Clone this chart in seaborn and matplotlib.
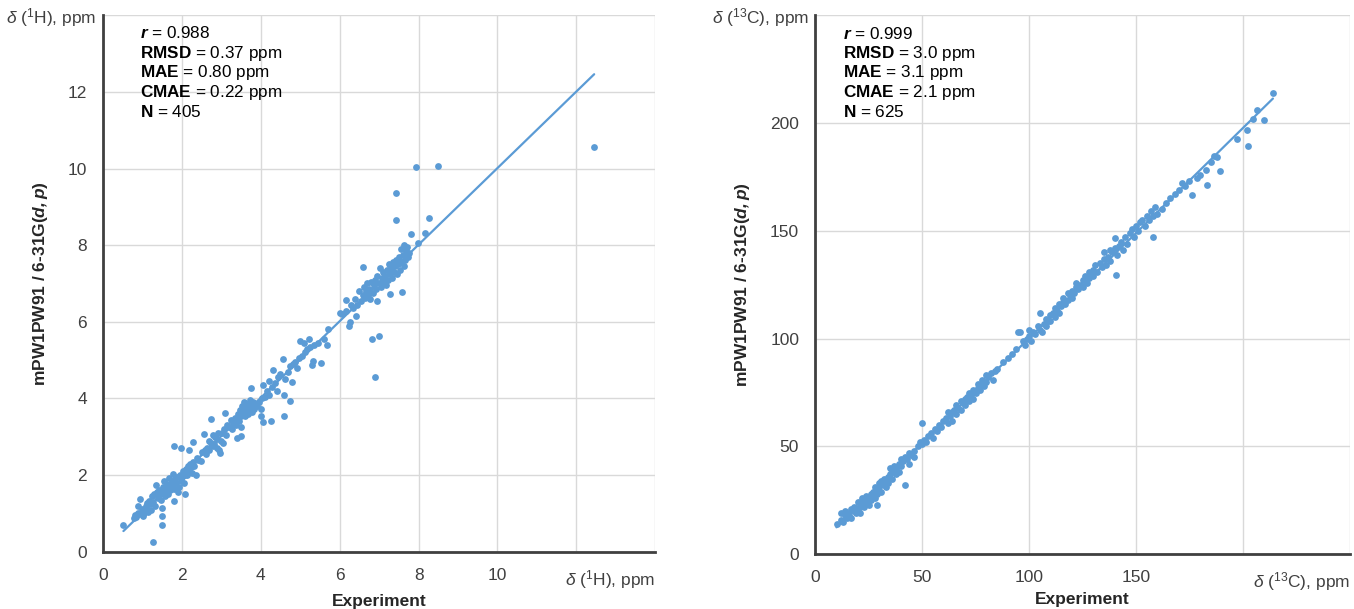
import matplotlib
matplotlib.use("Agg")
import matplotlib.pyplot as plt
import seaborn as sns
import pandas as pd

# 1H chemical shifts: experiment vs. mPW1PW91/6-31G(d,p)
h_exp = [0.52, 0.78, 0.82, 0.85, 0.88, 0.9, 0.92, 0.95, 0.98, 1.0, 1.02, 1.05, 1.08, 1.1, 1.12,
         1.15, 1.18, 1.2, 1.22, 1.25, 1.28, 1.28, 1.3, 1.32, 1.35, 1.38, 1.4, 1.42, 1.45, 1.48,
         1.5, 1.51, 1.51, 1.52, 1.55, 1.55, 1.58, 1.6, 1.62, 1.65, 1.68, 1.7, 1.72, 1.75, 1.78,
         1.78, 1.8, 1.8, 1.79, 1.82, 1.85, 1.88, 1.9, 1.92, 1.95, 1.98, 1.98, 2.0, 2.02, 2.05,
         2.07, 2.08, 2.1, 2.12, 2.15, 2.18, 2.18, 2.2, 2.22, 2.25, 2.28, 2.28, 2.3, 2.35, 2.38,
         2.42, 2.48, 2.52, 2.56, 2.58, 2.62, 2.65, 2.68, 2.7, 2.74, 2.75, 2.78, 2.8, 2.82, 2.85,
         2.88, 2.9, 2.92, 2.95, 2.98, 3.0, 3.02, 3.05, 3.08, 3.1, 3.12, 3.15, 3.2, 3.25, 3.28,
         3.3, 3.35, 3.38, 3.41, 3.42, 3.45, 3.48, 3.49, 3.5, 3.51, 3.52, 3.55, 3.58, 3.6, 3.62,
         3.65, 3.68, 3.7, 3.72, 3.75, 3.75, 3.78, 3.8, 3.82, 3.85, 3.9, 3.95, 4.0, 4.0, 4.02,
         4.06, 4.05, 4.1, 4.15, 4.2, 4.22, 4.25, 4.28, 4.31, 4.35, 4.4, 4.45, 4.5, 4.56, 4.58,
         4.6, 4.62, 4.68, 4.73, 4.75, 4.8, 4.82, 4.88, 4.92, 4.98, 5.0, 5.05, 5.1, 5.12, 5.18,
         5.22, 5.25, 5.31, 5.32, 5.35, 5.45, 5.52, 5.6, 5.68, 5.7,
         6.0, 6.05, 6.15, 6.16, 6.24, 6.27, 6.3, 6.35, 6.4, 6.42, 6.45, 6.5, 6.55, 6.58, 6.6,
         6.62, 6.65, 6.68, 6.7, 6.72, 6.75, 6.78, 6.8, 6.83, 6.85, 6.88, 6.9, 6.9, 6.92, 6.94,
         6.95, 7.0, 7.0, 7.02, 7.05, 7.08, 7.1, 7.12, 7.15, 7.18, 7.2, 7.22, 7.25, 7.27, 7.28,
         7.3, 7.32, 7.35, 7.38, 7.4, 7.42, 7.43, 7.43, 7.45, 7.48, 7.5, 7.52, 7.55, 7.55, 7.58,
         7.6, 7.62, 7.64, 7.65, 7.68, 7.7, 7.72, 7.75, 7.82, 7.94, 7.98, 8.16, 8.27, 8.49, 12.45]
h_calc = [0.70, 0.88, 0.95, 0.90, 1.02, 1.2, 0.98, 1.38, 1.05, 1.12, 0.92, 1.0, 1.2, 1.15, 1.28,
          1.05, 1.32, 1.25, 1.1, 1.45, 0.25, 1.3, 1.5, 1.2, 1.75, 1.55, 1.4, 1.62, 1.5, 1.35,
          1.15, 0.70, 0.94, 1.7, 1.85, 1.55, 1.45, 1.62, 1.78, 1.5, 1.92, 1.6, 1.7, 1.85, 1.75,
          2.02, 1.32, 1.65, 2.76, 1.9, 1.8, 1.95, 1.55, 1.7, 2.0, 2.71, 1.85, 1.95, 2.1, 1.8,
          2.0, 1.52, 2.15, 2.0, 2.25, 2.66, 2.1, 2.3, 2.2, 2.05, 2.86, 2.35, 2.25, 2.0, 2.45,
          2.4, 2.38, 2.6, 3.08, 2.65, 2.55, 2.7, 2.9, 2.65, 3.46, 2.85, 2.75, 3.05, 2.8, 3.0,
          2.7, 2.95, 3.1, 2.65, 2.58, 2.9, 3.1, 2.85, 3.2, 3.62, 3.05, 3.3, 3.25, 3.45, 3.2,
          3.35, 3.5, 3.3, 2.98, 3.6, 3.4, 3.7, 3.26, 3.55, 3.01, 3.8, 3.65, 3.9, 3.55, 3.75,
          3.85, 3.6, 3.7, 3.95, 4.28, 3.8, 3.65, 3.9, 3.72, 3.85, 3.8, 3.92, 3.55, 3.72, 4.0,
          3.38, 4.35, 4.05, 4.2, 4.45, 4.1, 3.41, 4.3, 4.73, 4.4, 4.2, 4.55, 4.65, 5.02, 4.1,
          3.55, 4.5, 4.7, 3.94, 4.85, 4.42, 4.9, 4.95, 4.8, 5.05, 5.5, 5.1, 5.45, 5.2, 5.3,
          5.55, 5.35, 4.88, 4.98, 5.4, 5.45, 4.93, 5.55, 5.40, 5.81,
          6.24, 6.2, 6.29, 6.57, 5.89, 5.99, 6.45, 6.35, 6.6, 6.15, 6.45, 6.8, 6.55, 6.7, 7.42,
          6.9, 6.62, 6.8, 7.0, 6.7, 6.85, 6.6, 7.05, 5.54, 6.75, 6.95, 4.57, 7.1, 6.85, 6.55,
          7.2, 5.62, 7.0, 7.4, 6.9, 7.15, 7.3, 7.05, 7.2, 6.95, 7.35, 7.1, 7.5, 6.73, 7.25,
          7.4, 7.15, 7.55, 7.3, 7.45, 7.6, 9.35, 8.65, 7.25, 7.5, 7.7, 7.35, 7.9, 7.55, 6.79,
          7.75, 7.45, 8.0, 7.6, 7.85, 7.95, 7.7, 7.8, 8.28, 10.03, 8.06, 8.33, 8.72, 10.07, 10.56]

# 13C chemical shifts
c_exp = [10, 12, 12, 13, 14, 14, 15, 15, 16, 17, 17, 18, 18, 19, 20, 20, 21, 21, 22, 22, 23, 23,
         24, 24, 25, 25, 26, 26, 27, 27, 28, 28, 29, 29, 29, 30, 30, 31, 31, 32, 32, 33, 33, 34,
         34, 35, 35, 36, 36, 37, 37, 38, 38, 39, 39, 40, 40, 41, 42, 42, 43, 44, 44, 45, 46, 46,
         48, 49, 50, 50, 51, 52, 53, 54, 55, 56, 57, 58, 59, 60,
         61, 62, 62, 63, 64, 64, 65, 66, 66, 67, 68, 68, 69, 70, 70, 71, 72, 72, 73, 74, 74, 75,
         76, 76, 77, 78, 78, 79, 80, 80, 81, 82, 83, 84, 85,
         88, 90, 92, 94, 95, 96, 97, 98, 99, 100, 100,
         101, 102, 103, 104, 105, 105, 106, 107, 108, 108, 109, 110, 110, 111, 112, 112, 113, 114,
         114, 115, 116, 116, 117, 118, 118, 119, 120, 120, 121, 122, 122, 123, 124, 125, 125, 126,
         127, 128, 128, 129, 130, 130, 131, 132, 133, 134, 135, 135, 136, 137, 138, 138, 139, 140,
         140, 140.6, 141, 142, 143, 144, 145, 146, 147, 148, 149, 150, 151, 152, 153, 154, 155,
         156, 157, 158, 158, 159, 160,
         162, 164, 166, 168, 170, 171.6, 173, 176, 175, 178.6, 180, 182.6, 183.2, 185, 186.5,
         188, 189.3, 197, 202, 202.3, 204.7, 206.4, 210, 214]
c_calc = [14, 16, 19, 15, 18, 20, 17, 19, 18, 21, 17, 20, 22, 19, 21, 24, 22, 19, 23, 26, 22, 25,
          27, 24, 26, 23, 28, 25, 29, 27, 26, 31, 30, 23, 28, 33, 31, 29, 34, 32, 35, 34, 31, 36,
          33, 37, 40, 35, 38, 39, 41, 37, 40, 42, 38, 41, 44, 43, 45, 32, 44, 47, 42, 46, 48, 45,
          50, 52, 51, 61, 53, 52, 55, 56, 54, 58, 57, 60, 59, 62,
          63, 61, 66, 64, 66, 62, 67, 65, 69, 68, 67, 71, 70, 72, 69, 73, 71, 75, 74, 76, 72, 75,
          77, 79, 76, 79, 81, 78, 80, 83, 82, 84, 81, 85, 86,
          89, 91, 93, 95, 103, 103, 99, 97, 100, 101, 104,
          99, 103, 102, 106, 112, 104, 103, 107, 109, 106, 108, 111, 108, 112, 110, 114, 113, 116,
          112, 115, 117, 119, 116, 118, 121, 120, 122, 119, 121, 124, 126, 123, 125, 127, 124, 129,
          126, 128, 131, 130, 129, 132, 134, 131, 135, 133, 137, 140, 134, 138, 136, 141, 140, 142,
          146.6, 129.5, 139, 143, 145, 141, 147, 144, 149, 151, 147, 152, 150, 154, 155, 152, 157,
          155, 159, 147, 157, 161, 158,
          160, 163, 165, 167, 169, 172.3, 171, 166.7, 173, 174.5, 176, 178, 171.4, 182, 184.8,
          184.4, 177.7, 192.4, 196.7, 189.5, 201.7, 206, 201.4, 214]

h_stats = [("r", "0.988"), ("RMSD", "0.37 ppm"), ("MAE", "0.80 ppm"), ("CMAE", "0.22 ppm"), ("N", "405")]
c_stats = [("r", "0.999"), ("RMSD", "3.0 ppm"), ("MAE", "3.1 ppm"), ("CMAE", "2.1 ppm"), ("N", "625")]

sns.set_style("white")
plt.rcParams["font.family"] = ["Liberation Sans", "DejaVu Sans"]
plt.rcParams["mathtext.fontset"] = "custom"
plt.rcParams["mathtext.rm"] = "Liberation Sans"
plt.rcParams["mathtext.it"] = "Liberation Sans:italic"
plt.rcParams["mathtext.bf"] = "Liberation Sans:bold"
plt.rcParams["mathtext.bfit"] = "Liberation Sans:bold:italic"

blue = "#5B9BD5"
dark = "#404040"

fig = plt.figure(figsize=(13.54, 6.09), dpi=100)
ax1 = fig.add_axes([0.076, 0.094, 0.408, 0.881])
ax2 = fig.add_axes([0.602, 0.090, 0.395, 0.885])

panels = [
    (ax1, pd.DataFrame({"exp": h_exp, "calc": h_calc}), h_stats, 14, 2, 12, 14, r"$\delta$ ($^{1}$H), ppm", 8),
    (ax2, pd.DataFrame({"exp": c_exp, "calc": c_calc}), c_stats, 250, 50, 200, 250, r"$\delta$ ($^{13}$C), ppm", 5),
]

for ax, df, stats, lim, step, xmax_lab, ymax_lab, unit, xpad in panels:
    sns.regplot(data=df, x="exp", y="calc", ax=ax, ci=None, color=blue,
                scatter_kws={"s": 24, "linewidths": 0, "alpha": 1},
                line_kws={"linewidth": 1.6})
    ax.set_xlim(0, lim)
    ax.set_ylim(0, lim)
    ax.set_xticks(range(0, xmax_lab, step))
    ax.set_yticks(range(0, ymax_lab, step))
    ax.set_xticks(range(xmax_lab, lim + 1, step), minor=True)
    ax.set_yticks(range(ymax_lab, lim + 1, step), minor=True)
    ax.grid(which="both", color="#D9D9D9", linewidth=1)
    ax.set_axisbelow(True)
    ax.tick_params(which="minor", length=0)
    ax.tick_params(which="major", direction="inout", length=7, width=1.5, color=dark,
                   labelsize=12.5, labelcolor="#404040", pad=8)
    for s in ["top", "right"]:
        ax.spines[s].set_visible(False)
    for s in ["left", "bottom"]:
        ax.spines[s].set_color(dark)
        ax.spines[s].set_linewidth(2)
    ax.set_xlabel("Experiment", fontsize=12.5, fontweight="bold", labelpad=xpad)
    ax.set_ylabel(r"mPW1PW91 / 6-31G($\mathbfit{d,p}$)", fontsize=12.5, fontweight="bold", labelpad=13)
    ax.text(1.0, -0.03, unit, transform=ax.transAxes, ha="right", va="top", fontsize=12.5, color=dark)
    ax.text(-0.012, 0.995, unit, transform=ax.transAxes, ha="right", va="center", fontsize=12.5, color=dark)
    for i, (name, val) in enumerate(stats):
        if name == "r":
            lab = r"$\mathbfit{r}$"
        else:
            lab = r"$\mathbf{" + name + "}$"
        ax.text(0.067 if ax is ax1 else 0.052, 0.966 - i * 0.0365, lab + " = " + val,
                transform=ax.transAxes, ha="left", va="center", fontsize=12.3, color="black")

fig.savefig("out.png", dpi=100)
